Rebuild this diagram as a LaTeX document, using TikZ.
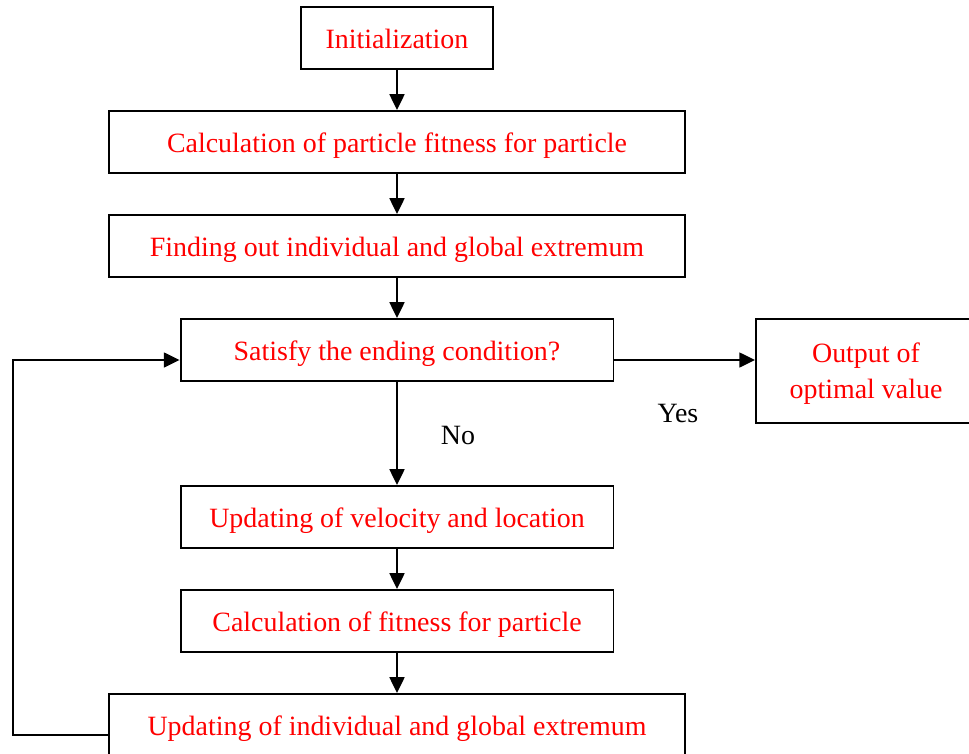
\documentclass[tikz,border=0pt]{standalone}
\usepackage{fontspec}
\setmainfont{Liberation Serif}
\usetikzlibrary{arrows.meta}
\tikzset{
  stepbox/.style={draw, line width=1.1pt, text=red, minimum height=1.24cm, inner sep=0pt, align=center, text height=11.5pt, text depth=0pt, font=\fontsize{15.9}{20.4}\selectfont},
  flow/.style={line width=1.1pt, -{Triangle[length=9pt,width=8.5pt]}},
  lbl/.style={font=\fontsize{15.9}{19}\selectfont}
}
\begin{document}
\begin{tikzpicture}[x=0.02cm, y=-0.02cm]
\clip (0, 0) rectangle (969, 753);
\node[stepbox, minimum width=3.84cm]  at (397, 38) (init) {Initialization};
\node[stepbox, minimum width=11.54cm] at (397, 142) (calc) {Calculation of particle fitness for particle};
\node[stepbox, minimum width=11.54cm] at (397, 246) (find) {Finding out individual and global extremum};
\node[stepbox, minimum width=8.66cm]  at (397, 350) (sat) {Satisfy the ending condition?};
\node[stepbox, text height=, minimum width=4.4cm, minimum height=2.08cm] at (866, 371) (out) {Output of\\optimal value};
\node[stepbox, minimum width=8.66cm]  at (397, 517) (vel) {Updating of velocity and location};
\node[stepbox, minimum width=8.66cm]  at (397, 621) (fit) {Calculation of fitness for particle};
\node[stepbox, minimum width=11.54cm] at (397, 725) (upd) {Updating of individual and global extremum};
\coordinate (yes) at (613, 360);
\coordinate (lb) at (13, 735);
\coordinate (lt) at (13, 360);
\draw[flow] (init) -- (calc);
\draw[flow] (calc) -- (find);
\draw[flow] (find) -- (sat);
\draw[flow] (sat) -- (vel);
\draw[flow] (vel) -- (fit);
\draw[flow] (fit) -- (upd);
\draw[flow] (yes) -- (out.west |- yes);
\draw[flow] (upd.west |- lb) -- (lb) -- (lt) -- (sat.west |- lt);
\node[lbl] at (458, 435) (no) {No};
\node[lbl] at (678, 413) (ys) {Yes};
\end{tikzpicture}
\end{document}
